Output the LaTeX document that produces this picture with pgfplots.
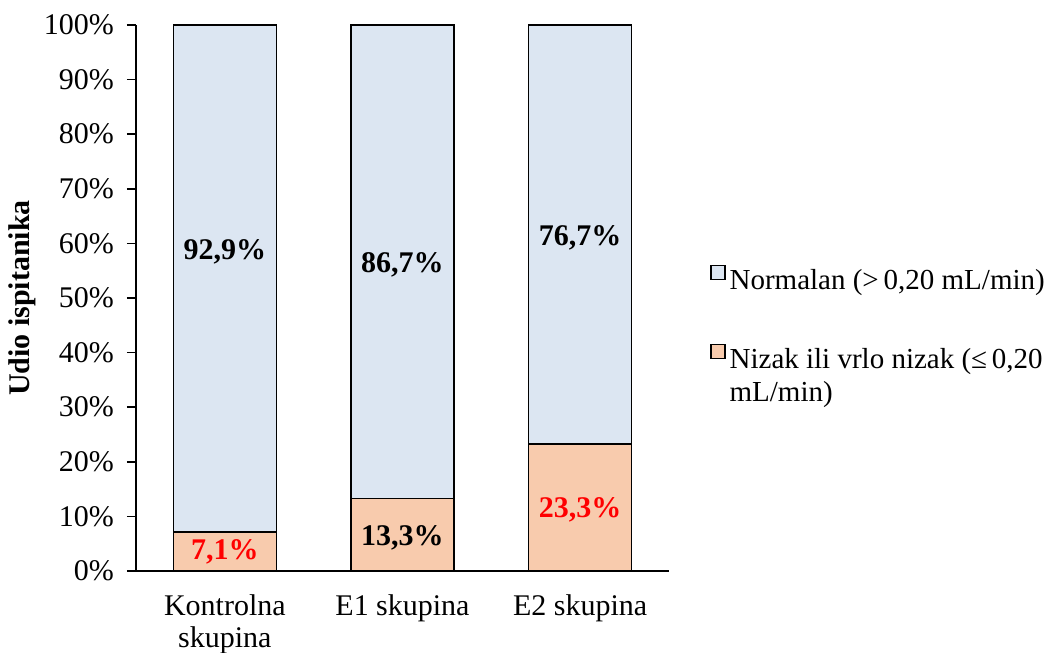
\documentclass[border=0pt]{standalone}
\usepackage{fontspec}
\setmainfont{Liberation Serif}
\usepackage{pgfplots}
\pgfplotsset{compat=1.18}
\definecolor{barblue}{HTML}{DCE6F2}
\definecolor{barorange}{HTML}{F8CBAD}
\newcommand\fs{\fontsize{14.5}{16.5}\selectfont}
\newcommand\ft{\fontsize{15}{16}\selectfont}
\begin{document}
\begin{tikzpicture}[font=\fs]
\useasboundingbox (-68pt,-41pt) rectangle (457.5pt,285.5pt);
\begin{axis}[
  scale only axis, width=266.5pt, height=273pt,
  ybar stacked, bar width=51.5pt,
  xmin=-0.5, xmax=2.5, ymin=0, ymax=100,
  axis lines*=left,
  axis line style={line width=0.75pt},
  xtick={0,1,2},
  xticklabels={{Kontrolna\\skupina},{E1 skupina},{E2 skupina}},
  xticklabel style={align=center, font=\ft, yshift=-4pt},
  x tick style={draw=none},
  ytick={0,10,...,100},
  yticklabels={0\%,10\%,20\%,30\%,40\%,50\%,60\%,70\%,80\%,90\%,100\%},
  yticklabel style={font=\ft, xshift=-3pt},
  tick align=outside, major tick length=4.5pt,
  y tick style={black, line width=0.75pt},
  ylabel={\textbf{Udio ispitanika}},
  every axis y label/.style={at={(rel axis cs:-0.2139,0.5)}, rotate=90, anchor=center, font=\ft},
  legend style={draw=none, fill=none, at={(rel axis cs:1.077,0.4595)}, anchor=west,
    row sep=24pt, inner sep=0pt, font=\fs, cells={anchor=base west}},
  legend cell align=left,
  reverse legend,
  legend image code/.code={\draw[#1, line width=0.6pt] (0pt,0.5pt) rectangle (7pt,7.5pt);},
]
\addplot[fill=barorange, draw=black, line width=0.75pt] coordinates {(0,7.1) (1,13.3) (2,23.3)};
\addlegendentry{\parbox[t]{165pt}{Nizak ili vrlo nizak (≤\,0,20\\mL/min)}}
\addplot[fill=barblue, draw=black, line width=0.75pt] coordinates {(0,92.9) (1,86.7) (2,76.7)};
\addlegendentry{Normalan (>\,0,20 mL/min)}
\end{axis}
\begin{axis}[
  scale only axis, width=266.5pt, height=273pt,
  xmin=-0.5, xmax=2.5, ymin=0, ymax=100,
  hide axis,
  nodes near coords, point meta=explicit symbolic,
  nodes near coords align={center},
  every node near coord/.append style={font=\ft\bfseries},
]
\addplot[draw=none, mark=none, nodes near coords style={text=black}] coordinates {
  (0,58.4) [92,9\%]
  (1,56.0) [86,7\%]
  (2,61.0) [76,7\%]
  (1,6.0) [13,3\%]
};
\addplot[draw=none, mark=none, nodes near coords style={text=red}] coordinates {
  (0,3.5) [7,1\%]
  (2,11.2) [23,3\%]
};
\end{axis}
\end{tikzpicture}
\end{document}
